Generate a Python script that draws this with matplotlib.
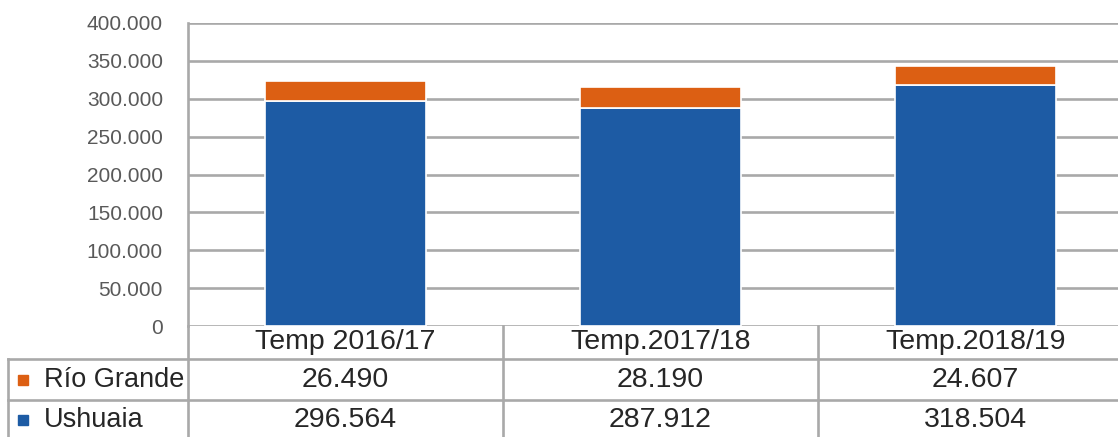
import matplotlib.pyplot as plt
import matplotlib.transforms as mtransforms
from matplotlib.lines import Line2D
from matplotlib.ticker import FuncFormatter, MultipleLocator
import numpy as np

plt.rcParams['font.family'] = ['Liberation Sans', 'DejaVu Sans']

# データ
temporadas = ['Temp 2016/17', 'Temp.2017/18', 'Temp.2018/19']
ushuaia = [296564, 287912, 318504]
rio_grande = [26490, 28190, 24607]
series_names = ['Río Grande', 'Ushuaia']

color_rg = '#dc5f13'
color_ush = '#1d5ba4'
grid_color = '#a9a9a9'

W, H = 1118, 437
fig = plt.figure(figsize=(W / 100, H / 100), dpi=100)

# 軸位置（ピクセル基準）
left_px, top_px, zero_px = 188, 23, 326
cat_w = 315
ax = fig.add_axes([left_px / W, (H - zero_px) / H, 3 * cat_w / W, (zero_px - top_px) / H])

x = np.arange(len(temporadas))
ax.bar(x, ushuaia, width=0.51, color=color_ush, edgecolor='white', linewidth=1.2, zorder=3)
ax.bar(x, rio_grande, width=0.51, bottom=ushuaia, color=color_rg, edgecolor='white',
       linewidth=1.2, zorder=3)

ax.set_xlim(-0.5, 2.5)
ax.set_ylim(0, 400000)
ax.yaxis.set_major_locator(MultipleLocator(50000))
ax.yaxis.set_major_formatter(FuncFormatter(lambda v, p: f'{int(v):,}'.replace(',', '.')))
ax.tick_params(axis='y', length=0, pad=18, labelsize=15, labelcolor='#595959')
ax.set_xticks([])
ax.grid(axis='y', color=grid_color, linewidth=1.9, zorder=0)
for s in ['top', 'right', 'bottom']:
    ax.spines[s].set_visible(False)
ax.spines['left'].set_color(grid_color)
ax.spines['left'].set_linewidth(1.9)

# テーブル（x はデータ座標、y は図座標）
trans = mtransforms.blended_transform_factory(ax.transData, fig.transFigure)
fy = lambda py: (H - py) / H
fx = lambda px: px / W
line_kw = dict(color=grid_color, linewidth=1.9, clip_on=False)

# 縦線
for b in [-0.5, 0.5, 1.5]:
    fig.add_artist(Line2D([b, b], [fy(zero_px), 0], transform=trans, **line_kw))
fig.add_artist(Line2D([fx(8), fx(8)], [fy(359), 0], transform=fig.transFigure, **line_kw))
# 横線
for py in [359, 400]:
    fig.add_artist(Line2D([fx(8), 1], [fy(py), fy(py)], transform=fig.transFigure, **line_kw))

text_kw = dict(fontsize=20.5, color='#262626', va='center')
for i, t in enumerate(temporadas):
    fig.text(x[i], fy(342), t, transform=trans, ha='center', **text_kw)
    fig.text(x[i], fy(380), f'{rio_grande[i]:,}'.replace(',', '.'), transform=trans,
             ha='center', **text_kw)
    fig.text(x[i], fy(420), f'{ushuaia[i]:,}'.replace(',', '.'), transform=trans,
             ha='center', **text_kw)

# 凡例キー
for py, name, c in [(380, series_names[0], color_rg), (420, series_names[1], color_ush)]:
    fig.add_artist(Line2D([fx(23)], [fy(py)], marker='s', markersize=6.5, color=c,
                          linestyle='none', transform=fig.transFigure))
    fig.text(fx(44), fy(py), name, ha='left', fontsize=19.5, color='#262626', va='center')

fig.savefig('out.png', dpi=100)
